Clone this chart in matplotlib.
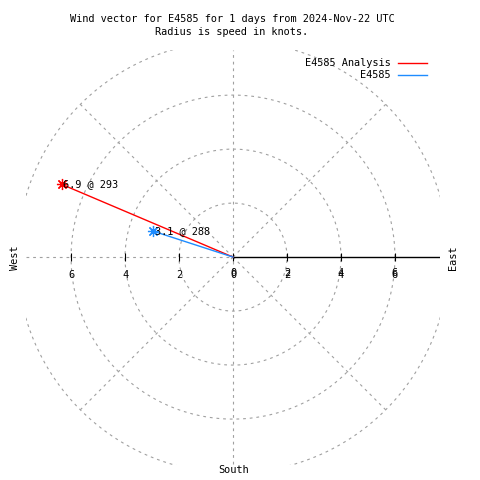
import numpy as np
import matplotlib
matplotlib.use("Agg")
import matplotlib.pyplot as plt
from matplotlib.lines import Line2D

# wind vectors: speed (knots) and direction (degrees, clockwise from north)
names = ["E4585 Analysis", "E4585"]
speeds = [6.9, 3.1]
directions = [293, 288]
colors = ["#ff0000", "#1e8cff"]

ring_radii = [2, 4, 6, 8]
spoke_angles = [45, 135, 225, 315]
tick_values = [-6, -4, -2, 0, 2, 4, 6]

plt.rcParams['font.family'] = ['DejaVu Sans Mono']
fs = 7.4
grid_kw = dict(color="#a0a0a0", lw=0.8, ls=(0, (2.5, 3.5)))

fig = plt.figure(figsize=(4.8, 4.8), dpi=100)
ax = fig.add_axes([26/480, 15/480, 414/480, 415/480])
lim = 7.67
ax.set_xlim(-lim, lim)
ax.set_ylim(-7.7, lim)
ax.set_aspect("auto")
ax.axis("off")

# polar grid
t = np.linspace(0, 2*np.pi, 400)
for r in ring_radii:
    ax.plot(r*np.cos(t), r*np.sin(t), **grid_kw)
for a in spoke_angles:
    rad = np.radians(a)
    ax.plot([0, 8*np.sin(rad)], [0, 8*np.cos(rad)], **grid_kw)
ax.plot([0, 0], [-lim, lim], **grid_kw)
ax.plot([-lim, 0], [0, 0], **grid_kw)

# solid radial axis toward east
ax.plot([0, lim], [0, 0], color="black", lw=1.0)
ax.plot(tick_values, [0]*len(tick_values), ls="none", marker="|",
        color="black", ms=6, mew=0.8)
for v in tick_values:
    ax.annotate(str(abs(v)), (v, 0), xytext=(0, -13), textcoords="offset points",
                ha="center", va="center", fontsize=fs)
    if v >= 0:
        ax.annotate(str(abs(v)), (v, 0), xytext=(0, -11.5), textcoords="offset points",
                    ha="center", va="center", fontsize=fs)

# vectors
for name, s, d, c in zip(names, speeds, directions, colors):
    rad = np.radians(d)
    x, y = s*np.sin(rad), s*np.cos(rad)
    ax.plot([0, x], [0, y], color=c, lw=1.0)
    ax.plot([x], [y], marker=(8, 2, 0), color=c, ms=8, mew=0.9)
    ax.annotate(f"{s} @ {d}", (x, y), xytext=(1, 0), textcoords="offset points",
                ha="left", va="center", fontsize=fs)

# compass labels
fig.text(15/480, 1 - 258/480, "West", rotation=90, ha="center", va="center", fontsize=fs)
fig.text(453/480, 1 - 258/480, "East", rotation=90, ha="center", va="center", fontsize=fs)
fig.text(234/480, 1 - 470/480, "South", ha="center", va="center", fontsize=fs)

# title
fig.text(232/480, 1 - 19/480, "Wind vector for E4585 for 1 days from 2024-Nov-22 UTC",
         ha="center", va="center", fontsize=fs)
fig.text(232/480, 1 - 32/480, "Radius is speed in knots.",
         ha="center", va="center", fontsize=fs)

# legend
for i, (name, c) in enumerate(zip(names, colors)):
    yy = 1 - (63 + 12*i)/480
    fig.text(391/480, yy, name, ha="right", va="center", fontsize=fs)
    fig.add_artist(Line2D([398/480, 427/480], [yy, yy], color=c, lw=1.0))

fig.savefig("out.png", dpi=100)
